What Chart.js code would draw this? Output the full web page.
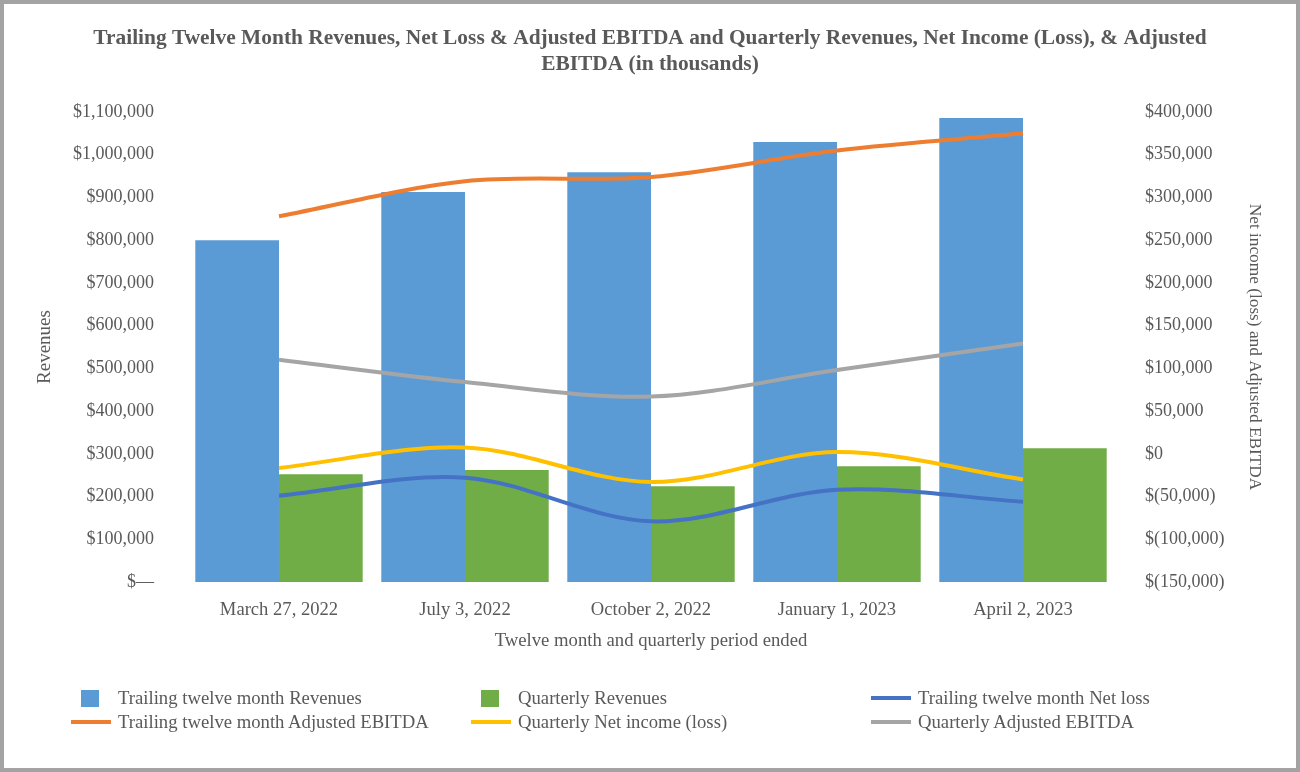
<!DOCTYPE html>
<html>
<head>
<meta charset="utf-8">
<script src="https://cdn.jsdelivr.net/npm/chart.js@4.4.1/dist/chart.umd.min.js"></script>
<style>
  html, body { margin: 0; padding: 0; background: #fff; }
  #wrap { position: relative; width: 1300px; height: 772px; background: #fff; }
  #frame { position: absolute; left: 0; top: 0; width: 1300px; height: 772px; box-sizing: border-box;
           border: 4px solid #a3a3a3; pointer-events: none; }
  #legend { position: absolute; left: 0; top: 686px; width: 1300px; font-family: 'Liberation Serif', serif;
            font-size: 18.7px; color: #595959; }
  .item { position: absolute; height: 24px; line-height: 24px; white-space: nowrap; }
  .mark { position: absolute; }
</style>
</head>
<body>
<div id="wrap">
  <canvas id="combo"></canvas>
  <div id="legend"></div>
  <div id="frame"></div>
</div>
<script>
const periods = ['March 27, 2022', 'July 3, 2022', 'October 2, 2022', 'January 1, 2023', 'April 2, 2023'];

// bars, left axis (in thousands)
const ttmRevenues = [800000, 913000, 959000, 1030000, 1086000];
const qRevenues = [252000, 262000, 224000, 271000, 313000];

// lines, right axis (in thousands)
const ttmNetLoss = [-49000, -28000, -79000, -42000, -56000];
const ttmAdjEbitda = [278000, 319000, 324000, 355000, 375000];
const qNetIncome = [-16500, 7400, -33000, 2000, -30000];
const qAdjEbitda = [110000, 84000, 67000, 98000, 129000];

const leftTicks = { min: 0, max: 1100000, step: 100000 };
const rightTicks = { min: -150000, max: 400000, step: 50000 };

const grey = '#595959';
const serif = 'Liberation Serif';

function money(v) {
    if (v === 0) return '$—';
    return '$' + v.toLocaleString('en-US');
}
function moneyParen(v) {
    if (v < 0) return '$(' + Math.abs(v).toLocaleString('en-US') + ')';
    return '$' + v.toLocaleString('en-US');
}

function lineSet(label, data, color) {
    return {
        type: 'line', label: label, data: data, yAxisID: 'y1',
        borderColor: color, backgroundColor: color, borderWidth: 4,
        pointRadius: 0, tension: 0.33, order: 0
    };
}

const ctx = document.getElementById('combo');

const chart = new Chart(ctx, {
    type: 'bar',
    data: {
        labels: periods,
        datasets: [
            { label: 'Trailing twelve month Revenues', data: ttmRevenues, backgroundColor: '#5b9bd5', yAxisID: 'y', order: 1 },
            { label: 'Quarterly Revenues', data: qRevenues, backgroundColor: '#70ad47', yAxisID: 'y', order: 1 },
            lineSet('Trailing twelve month Net loss', ttmNetLoss, '#4472c4'),
            lineSet('Trailing twelve month Adjusted EBITDA', ttmAdjEbitda, '#ed7d31'),
            lineSet('Quarterly Net income (loss)', qNetIncome, '#ffc000'),
            lineSet('Quarterly Adjusted EBITDA', qAdjEbitda, '#a5a5a5')
        ]
    },
    options: {
        responsive: true,
        maintainAspectRatio: false,
        animation: false,
        datasets: { bar: { categoryPercentage: 0.9, barPercentage: 1.0, borderWidth: 0 } },
        layout: { padding: { top: 25, left: 0, right: 0, bottom: 110 } },
        plugins: {
            legend: { display: false },
            tooltip: { enabled: false },
            title: {
                display: true,
                text: ['Trailing Twelve Month Revenues, Net Loss & Adjusted EBITDA and Quarterly Revenues, Net Income (Loss), & Adjusted',
                       'EBITDA (in thousands)'],
                color: grey,
                font: { family: serif, size: 21.4, weight: 'bold', lineHeight: 1.215 },
                padding: { top: 0, bottom: 35 }
            }
        },
        scales: {
            x: {
                grid: { display: false, drawTicks: false },
                border: { display: false },
                ticks: { color: grey, font: { family: serif, size: 18.6 }, padding: 17, maxRotation: 0 },
                title: { display: true, text: 'Twelve month and quarterly period ended', color: grey,
                         font: { family: serif, size: 18.7 }, padding: { top: 0, bottom: 10 } },
                afterFit: function (s) { s.height = 80; }
            },
            y: {
                position: 'left',
                min: leftTicks.min, max: leftTicks.max,
                grid: { display: false, drawTicks: false },
                border: { display: false },
                ticks: { stepSize: leftTicks.step, color: grey, font: { family: serif, size: 18 }, padding: 32,
                         callback: function (v) { return money(v); } },
                title: { display: true, text: 'Revenues', color: grey, font: { family: serif, size: 19 },
                         padding: { top: 34, bottom: 0 } },
                afterFit: function (s) { s.width = 186; }
            },
            y1: {
                position: 'right',
                min: rightTicks.min, max: rightTicks.max,
                grid: { display: false, drawTicks: false },
                border: { display: false },
                ticks: { stepSize: rightTicks.step, color: grey, font: { family: serif, size: 18 }, padding: 29,
                         callback: function (v) { return moneyParen(v); } },
                title: { display: true, text: 'Net income (loss) and Adjusted EBITDA', color: grey,
                         font: { family: serif, size: 17.3 }, padding: { top: 34.6, bottom: 0 } },
                afterFit: function (s) { s.width = 184; }
            }
        }
    }
});

// legend: three columns, two rows, built from the datasets
const legend = document.getElementById('legend');
chart.data.datasets.forEach(function (ds, i) {
    const col = i % 3, row = Math.floor(i / 3);
    const textX = 118 + col * 400;
    const item = document.createElement('div');
    item.className = 'item';
    item.style.left = textX + 'px';
    item.style.top = (row * 24) + 'px';
    item.textContent = ds.label;
    legend.appendChild(item);

    const mark = document.createElement('div');
    mark.className = 'mark';
    mark.style.background = ds.backgroundColor;
    if (ds.type === 'line') {
        mark.style.left = (textX - 47) + 'px';
        mark.style.width = '40px';
        mark.style.height = '4px';
        mark.style.top = (row * 24 + 10) + 'px';
    } else {
        mark.style.left = (textX - 37) + 'px';
        mark.style.width = '18px';
        mark.style.height = '17px';
        mark.style.top = (row * 24 + 4) + 'px';
    }
    legend.appendChild(mark);
});
</script>
</body>
</html>
